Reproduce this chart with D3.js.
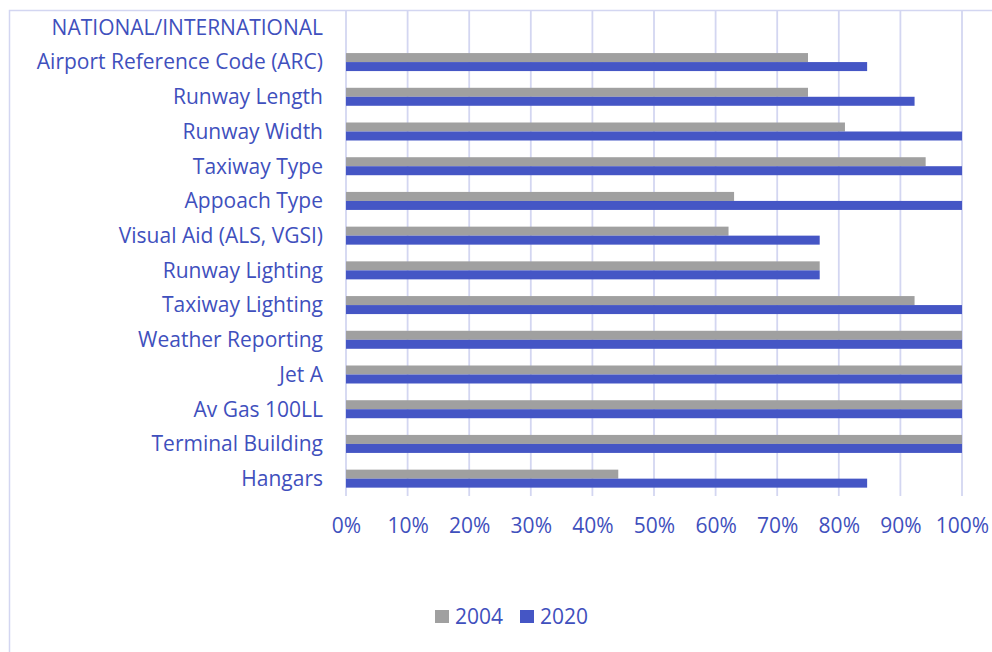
<!DOCTYPE html>
<html>
<head>
<meta charset="utf-8">
<script src="https://cdn.jsdelivr.net/npm/d3@7/dist/d3.min.js"></script>
<style>
  html, body { margin: 0; padding: 0; background: #fff; }
  svg { display: block; }
  text { font-family: "Open Sans", "Noto Sans", sans-serif; fill: #3F50BD; }
</style>
</head>
<body>
<svg id="chart" width="992" height="652"></svg>
<script>
// Facility categories, top to bottom
const categories = [
  "NATIONAL/INTERNATIONAL",
  "Airport Reference Code (ARC)",
  "Runway Length",
  "Runway Width",
  "Taxiway Type",
  "Appoach Type",
  "Visual Aid (ALS, VGSI)",
  "Runway Lighting",
  "Taxiway Lighting",
  "Weather Reporting",
  "Jet A",
  "Av Gas 100LL",
  "Terminal Building",
  "Hangars"
];

// Share of airports meeting each standard (%), null where no bar is drawn
const values2004 = [null, 75, 75, 81, 94.1, 63, 62.1, 76.9, 92.3, 100, 100, 100, 100, 44.2];
const values2020 = [null, 84.6, 92.3, 100, 100, 100, 76.9, 76.9, 100, 100, 100, 100, 100, 84.6];

const seriesNames = ["2004", "2020"];
const seriesColors = ["#A0A0A0", "#4556C5"];
const tickValues = [0, 10, 20, 30, 40, 50, 60, 70, 80, 90, 100];

const fontSize = "21px";
const svg = d3.select("#chart");

// Outer chart frame
svg.append("rect")
  .attr("x", 9.5).attr("y", 10.5)
  .attr("width", 1000).attr("height", 700)
  .attr("fill", "none")
  .attr("stroke", "#D3D6F1")
  .attr("stroke-width", 1.5);

const plot = { left: 346, right: 962, top: 10, bottom: 496 };

const x = d3.scaleLinear().domain([0, 100]).range([plot.left, plot.right]);
const y = d3.scaleBand().domain(categories).range([plot.top, plot.bottom]).paddingInner(0).paddingOuter(0);
const sub = d3.scaleBand().domain(seriesNames).range([0, 18]);

// Vertical gridlines
svg.append("g")
  .selectAll("line")
  .data(tickValues)
  .join("line")
  .attr("x1", d => x(d)).attr("x2", d => x(d))
  .attr("y1", plot.top).attr("y2", plot.bottom)
  .attr("stroke", "#D3D6F1")
  .attr("stroke-width", 1.8);

// Bars
const rows = categories.map((c, i) => ({ cat: c, vals: [values2004[i], values2020[i]] }));
const rowG = svg.append("g")
  .selectAll("g")
  .data(rows)
  .join("g")
  .attr("transform", d => `translate(0,${y(d.cat) + y.bandwidth() / 2 - 9})`);

rowG.selectAll("rect")
  .data(d => d.vals.map((v, k) => ({ v, k })).filter(e => e.v !== null))
  .join("rect")
  .attr("x", x(0))
  .attr("y", e => sub(seriesNames[e.k]))
  .attr("width", e => x(e.v) - x(0))
  .attr("height", sub.bandwidth())
  .attr("fill", e => seriesColors[e.k]);

// Category axis (labels only)
const yAxis = d3.axisLeft(y).tickSize(0).tickPadding(0);
const yg = svg.append("g").attr("transform", `translate(${plot.left - 23},0)`).call(yAxis);
yg.select(".domain").remove();
yg.selectAll("text")
  .style("font-size", fontSize)
  .attr("fill", "#3F50BD")
  .attr("dy", "0.35em");

// Value axis labels
const xAxis = d3.axisBottom(x).tickValues(tickValues).tickFormat(d => d + "%").tickSize(0).tickPadding(0);
const xg = svg.append("g").attr("transform", `translate(0,${plot.bottom + 22})`).call(xAxis);
xg.select(".domain").remove();
xg.selectAll("text")
  .style("font-size", fontSize)
  .attr("fill", "#3F50BD")
  .attr("dy", "0.71em");

// Legend
const legend = svg.append("g").attr("transform", "translate(435,610)");
const items = legend.selectAll("g")
  .data(seriesNames)
  .join("g")
  .attr("transform", (d, i) => `translate(${i * 85},0)`);
items.append("rect")
  .attr("width", 14).attr("height", 13)
  .attr("fill", (d, i) => seriesColors[i]);
items.append("text")
  .attr("x", 20).attr("y", 7)
  .attr("dy", "0.35em")
  .style("font-size", fontSize)
  .text(d => d);
</script>
</body>
</html>
